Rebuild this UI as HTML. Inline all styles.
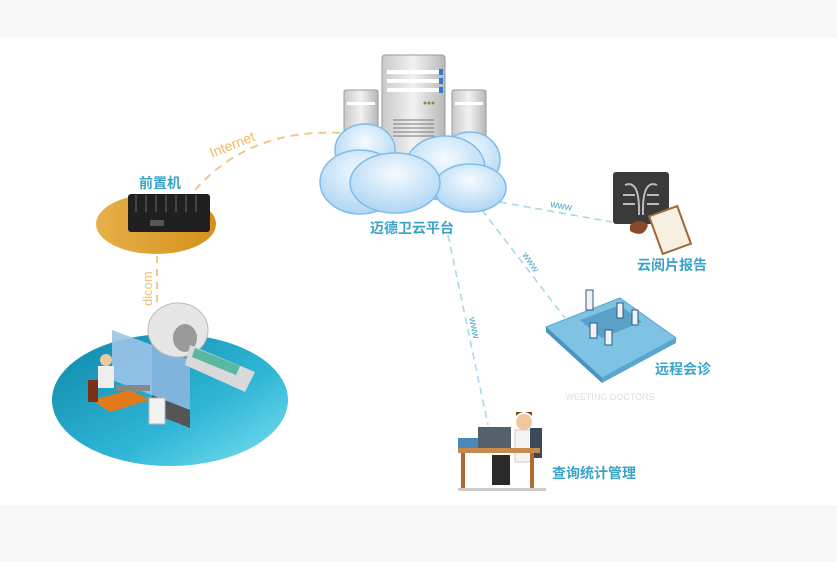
<!DOCTYPE html>
<html><head><meta charset="utf-8"><style>
html,body{margin:0;padding:0;background:#f8f8f8;}
svg{display:block;font-family:"Liberation Sans","Noto Sans CJK SC",sans-serif;}
</style></head><body>
<svg width="837" height="562" viewBox="0 0 837 562" xmlns="http://www.w3.org/2000/svg">
<defs>
<linearGradient id="srv" x1="0" x2="1"><stop offset="0" stop-color="#c9c9c9"/><stop offset=".5" stop-color="#f2f2f2"/><stop offset="1" stop-color="#b8b8b8"/></linearGradient>
<radialGradient id="cl" cx=".5" cy=".35" r=".75"><stop offset="0" stop-color="#f6fbff"/><stop offset="1" stop-color="#a3d0f2"/></radialGradient>
<linearGradient id="teal" x1="0" y1="0" x2="1" y2="1"><stop offset="0" stop-color="#0e86a8"/><stop offset=".6" stop-color="#2fb6d6"/><stop offset="1" stop-color="#7de0f2"/></linearGradient>
<linearGradient id="org" x1="0" x2="1"><stop offset="0" stop-color="#e7b04a"/><stop offset="1" stop-color="#d4901a"/></linearGradient>
</defs>
<rect x="0" y="38" width="837" height="467" fill="#ffffff"/>

<!-- connectors -->
<path d="M195,190 Q250,128 342,133" fill="none" stroke="#f3c987" stroke-width="2" stroke-dasharray="8,6"/>
<text x="212" y="158" font-size="14" fill="#f0b864" transform="rotate(-22 212 158)">Internet</text>
<line x1="157" y1="256" x2="157" y2="306" stroke="#f3c987" stroke-width="2" stroke-dasharray="7,6"/>
<text x="152" y="306" font-size="13" fill="#f0c070" transform="rotate(-90 152 306)">dicom</text>
<g stroke="#a8d8ea" stroke-width="1.6" stroke-dasharray="7,5" fill="none">
<line x1="488" y1="200" x2="612" y2="222"/>
<line x1="482" y1="210" x2="565" y2="318"/>
<line x1="448" y1="235" x2="488" y2="425"/>
</g>
<text x="550" y="207" font-size="10" fill="#4aa8c8" transform="rotate(10 550 207)">www</text>
<text x="522" y="255" font-size="10" fill="#4aa8c8" transform="rotate(55 522 255)">www</text>
<text x="469" y="318" font-size="10" fill="#4aa8c8" transform="rotate(78 469 318)">www</text>

<!-- servers -->
<g stroke="#9a9a9a" stroke-width="1">
<rect x="344" y="90" width="34" height="58" rx="2" fill="url(#srv)"/>
<rect x="452" y="90" width="34" height="58" rx="2" fill="url(#srv)"/>
<rect x="382" y="55" width="63" height="110" rx="3" fill="url(#srv)"/>
</g>
<g fill="#fff"><rect x="387" y="70" width="52" height="4"/><rect x="387" y="79" width="52" height="4"/><rect x="387" y="88" width="52" height="4"/>
<rect x="347" y="102" width="28" height="3"/><rect x="455" y="102" width="28" height="3"/></g>
<g fill="#2a7ad0"><rect x="439" y="69" width="4" height="6"/><rect x="439" y="78" width="4" height="6"/><rect x="439" y="87" width="4" height="6"/></g>
<g fill="#6a9a40"><circle cx="425" cy="103" r="1.5"/><circle cx="429" cy="103" r="1.5"/><circle cx="433" cy="103" r="1.5"/></g>
<g stroke="#777" stroke-width="1"><line x1="393" y1="120" x2="434" y2="120"/><line x1="393" y1="124" x2="434" y2="124"/><line x1="393" y1="128" x2="434" y2="128"/><line x1="393" y1="132" x2="434" y2="132"/><line x1="393" y1="136" x2="434" y2="136"/></g>

<!-- cloud -->
<g fill="url(#cl)" stroke="#7fbde8" stroke-width="1.5">
<ellipse cx="470" cy="160" rx="30" ry="28"/>
<ellipse cx="365" cy="150" rx="30" ry="26"/>
<ellipse cx="445" cy="168" rx="40" ry="32"/>
<ellipse cx="360" cy="182" rx="40" ry="32"/>
<ellipse cx="470" cy="188" rx="36" ry="24"/>
<ellipse cx="395" cy="183" rx="45" ry="30"/>
</g>
<text x="412" y="233" font-size="14" font-weight="bold" fill="#3aa3c8" text-anchor="middle">迈德卫云平台</text>

<!-- front machine -->
<ellipse cx="156" cy="224" rx="60" ry="30" fill="url(#org)"/>
<text x="160" y="188" font-size="14" font-weight="bold" fill="#3aa3c8" text-anchor="middle">前置机</text>
<rect x="128" y="194" width="82" height="38" rx="3" fill="#1f1f22"/>
<g stroke="#444" stroke-width="2"><line x1="136" y1="195" x2="136" y2="212"/><line x1="146" y1="195" x2="146" y2="212"/><line x1="156" y1="195" x2="156" y2="212"/><line x1="166" y1="195" x2="166" y2="212"/><line x1="176" y1="195" x2="176" y2="212"/><line x1="186" y1="195" x2="186" y2="212"/><line x1="196" y1="195" x2="196" y2="212"/></g>
<rect x="150" y="220" width="14" height="6" fill="#555"/>

<!-- MRI platform -->
<ellipse cx="170" cy="400" rx="118" ry="66" fill="url(#teal)"/>
<polygon points="112,330 152,345 152,395 112,380" fill="#9cc4e8" opacity=".9"/>
<polygon points="152,345 190,360 190,420 152,405" fill="#8ab6de" opacity=".9"/>
<polygon points="152,395 190,410 190,428 152,413" fill="#555"/>
<ellipse cx="178" cy="330" rx="30" ry="27" fill="#e6e6e6" stroke="#bbb"/>
<ellipse cx="185" cy="338" rx="12" ry="14" fill="#9a9a9a"/>
<polygon points="190,345 255,372 245,392 185,365" fill="#d9d9d9"/>
<polygon points="195,348 240,366 236,375 192,357" fill="#5bb8a0"/>
<polygon points="92,400 130,390 150,400 110,412" fill="#e07a1a"/>
<rect x="116" y="385" width="34" height="6" fill="#888"/>
<circle cx="106" cy="360" r="6" fill="#f0c8a0"/>
<rect x="98" y="366" width="16" height="22" fill="#eee"/>
<rect x="88" y="380" width="10" height="22" fill="#7a3018"/>
<rect x="149" y="398" width="16" height="26" fill="#f2f2f2" stroke="#bbb"/>

<!-- xray report -->
<rect x="613" y="172" width="56" height="52" rx="3" fill="#3a3a3a"/>
<g stroke="#bbb" stroke-width="2" fill="none"><path d="M625,185 q15,-6 14,30"/><path d="M657,185 q-15,-6 -14,30"/><path d="M623,195 h12 M623,204 h12 M647,195 h12 M647,204 h12"/></g>
<path d="M630,225 q10,-8 18,0 q-4,14 -18,6z" fill="#8a4a2a"/>
<rect x="655" y="210" width="30" height="40" fill="#f6f0e0" stroke="#9a6a3a" stroke-width="2" transform="rotate(-20 670 230)"/>
<text x="672" y="270" font-size="14" font-weight="bold" fill="#3aa3c8" text-anchor="middle">云阅片报告</text>

<!-- meeting -->
<polygon points="546,327 620,298 676,338 602,378" fill="#7ec3e4" stroke="#5aa6cf"/>
<polygon points="546,327 602,378 602,383 546,332" fill="#4a95c0"/>
<polygon points="602,378 676,338 676,343 602,383" fill="#5aa6cf"/>
<polygon points="580,320 620,305 642,322 602,338" fill="#5aa0c8"/>
<g fill="#f2f2f2" stroke="#2a5a8a" stroke-width="1"><rect x="586" y="290" width="7" height="20"/><rect x="617" y="303" width="6" height="15"/><rect x="632" y="310" width="6" height="15"/><rect x="590" y="323" width="7" height="15"/><rect x="605" y="330" width="7" height="15"/></g>
<text x="683" y="374" font-size="14" font-weight="bold" fill="#3aa3c8" text-anchor="middle">远程会诊</text>
<text x="610" y="400" font-size="9" fill="#ddd" text-anchor="middle">WEETING DOCTORS</text>

<!-- doctor desk -->
<rect x="478" y="427" width="33" height="25" fill="#55606a"/>
<rect x="515" y="430" width="18" height="32" fill="#f4f4f4" stroke="#ccc"/>
<circle cx="524" cy="422" r="8" fill="#f0c8a0"/>
<path d="M516,416 q8,-8 16,0 v-4 h-16z" fill="#7a4a1a"/>
<rect x="530" y="428" width="12" height="30" fill="#3a4a5a"/>
<rect x="458" y="448" width="82" height="5" fill="#c98a50"/>
<rect x="458" y="438" width="20" height="10" fill="#4a8ab8"/>
<rect x="461" y="453" width="4" height="36" fill="#b06a30"/><rect x="530" y="453" width="4" height="36" fill="#b06a30"/>
<rect x="492" y="455" width="18" height="30" fill="#2a2a2a"/>
<rect x="458" y="488" width="88" height="3" fill="#ccc"/>
<text x="594" y="478" font-size="14" font-weight="bold" fill="#3aa3c8" text-anchor="middle">查询统计管理</text>
</svg>
</body></html>
